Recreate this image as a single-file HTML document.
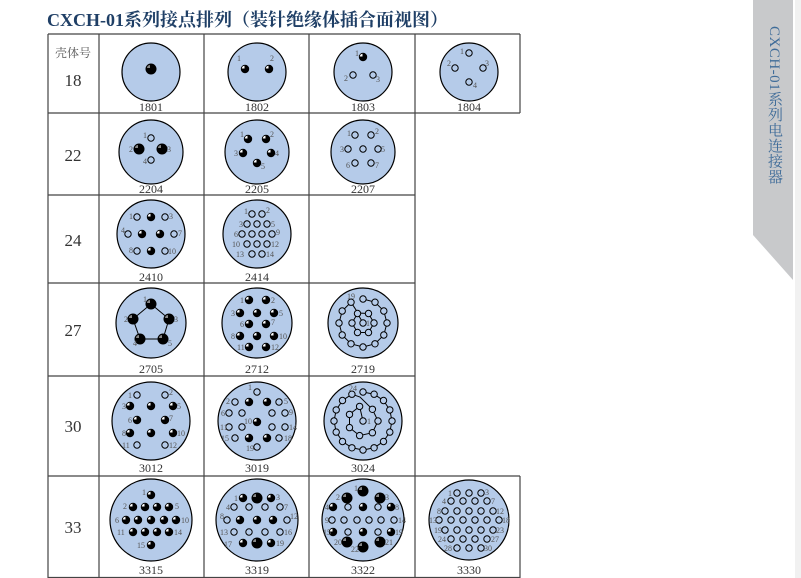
<!DOCTYPE html>
<html><head><meta charset="utf-8"><style>
html,body{margin:0;padding:0;width:801px;height:578px;overflow:hidden;background:#fff}
svg{position:absolute;left:0;top:0}
.vt{position:absolute;left:764px;top:26px;writing-mode:vertical-rl;font-family:"Liberation Serif","Noto Serif CJK SC",serif;font-size:15px;color:#3f6c99;letter-spacing:0.5px}
</style></head><body>
<svg width="801" height="578" viewBox="0 0 801 578" xmlns="http://www.w3.org/2000/svg">
<defs>
<g id="o"><circle r="3.2" fill="#b5cbe9" stroke="#000" stroke-width="1"/></g>
<g id="h"><circle r="4.2" fill="#000"/><path d="M-0.5,-0.5 L-3.2,-0.5 A2.8,2.8 0 0 1 -0.5,-3.2Z" fill="#fff"/></g>
<g id="b"><circle r="5.5" fill="#000"/><path d="M-1,-1 L-4,-1 A3,3 0 0 1 -1,-4Z" fill="#888"/></g>
</defs>
<polygon points="753,0 793,0 793,280 753,235" fill="#c8c9cb"/>
<rect x="795" y="0" width="6" height="578" fill="#f1f1f1"/>
<text x="47" y="26" font-family="Liberation Serif,Noto Serif CJK SC,serif" font-weight="bold" font-size="18" fill="#1f3f66">CXCH-01系列接点排列（装针绝缘体插合面视图）</text>
<g stroke="#444" stroke-width="1.2" fill="none">
<line x1="48" y1="34" x2="520" y2="34"/><line x1="48" y1="113" x2="520" y2="113"/>
<line x1="48" y1="195" x2="415" y2="195"/><line x1="48" y1="283" x2="415" y2="283"/>
<line x1="48" y1="376" x2="415" y2="376"/><line x1="48" y1="476" x2="520" y2="476"/>
<line x1="48" y1="577.5" x2="520" y2="577.5"/>
<line x1="48" y1="34" x2="48" y2="578"/><line x1="99" y1="34" x2="99" y2="578"/>
<line x1="204" y1="34" x2="204" y2="578"/><line x1="309" y1="34" x2="309" y2="578"/>
<line x1="415" y1="34" x2="415" y2="578"/><line x1="520" y1="34" x2="520" y2="113"/>
<line x1="520" y1="476" x2="520" y2="578"/>
</g>
<g font-family="Liberation Serif,Noto Serif CJK SC,serif" fill="#333" text-anchor="middle">
<text x="73" y="57" font-size="12" fill="#555">壳体号</text>
<text x="73" y="86" font-size="17">18</text>
<text x="73" y="161" font-size="17">22</text>
<text x="73" y="246" font-size="17">24</text>
<text x="73" y="336" font-size="17">27</text>
<text x="73" y="432" font-size="17">30</text>
<text x="73" y="533" font-size="17">33</text>
<g font-size="12">
<text x="151" y="111">1801</text><text x="257" y="111">1802</text><text x="363" y="111">1803</text><text x="469" y="111">1804</text>
<text x="151" y="193">2204</text><text x="257" y="193">2205</text><text x="363" y="193">2207</text>
<text x="151" y="281">2410</text><text x="257" y="281">2414</text>
<text x="151" y="373">2705</text><text x="257" y="373">2712</text><text x="363" y="373">2719</text>
<text x="151" y="472">3012</text><text x="257" y="472">3019</text><text x="363" y="472">3024</text>
<text x="151" y="574">3315</text><text x="257" y="574">3319</text><text x="363" y="574">3322</text><text x="469" y="574">3330</text>
</g>
</g>
<g fill="#b5cbe9" stroke="#000" stroke-width="1.2">
<circle cx="151" cy="72" r="29"/><circle cx="257" cy="72" r="29"/><circle cx="363" cy="72" r="29"/><circle cx="469" cy="72" r="29"/>
<circle cx="151" cy="152" r="32"/><circle cx="257" cy="152" r="32"/><circle cx="363" cy="152" r="32"/>
<circle cx="151" cy="234" r="34"/><circle cx="257" cy="234" r="34"/>
<circle cx="151" cy="323" r="35"/><circle cx="257" cy="323" r="35"/><circle cx="363" cy="323" r="35"/>
<circle cx="151" cy="421" r="39"/><circle cx="257" cy="421" r="39"/><circle cx="363" cy="421" r="39"/>
<circle cx="151" cy="520" r="41"/><circle cx="257" cy="520" r="41"/><circle cx="363" cy="520" r="41"/><circle cx="469" cy="520" r="40"/>
</g>
<g font-family="Liberation Serif,serif" font-size="8" fill="#555">
<g transform="translate(151,72)"><use href="#b" x="0" y="-3"/></g>
<g transform="translate(257,72)"><use href="#h" x="-12" y="-3"/><use href="#h" x="12" y="-3"/><text x="-20" y="-11">1</text><text x="13" y="-11">2</text></g>
<g transform="translate(363,72)"><use href="#h" x="0" y="-15"/><use href="#o" x="-10" y="3"/><use href="#o" x="10" y="3"/><text x="-8" y="-16">1</text><text x="-19" y="9">2</text><text x="13" y="10">3</text></g>
<g transform="translate(469,72)"><use href="#o" x="0" y="-19"/><use href="#o" x="-14" y="-4"/><use href="#o" x="14" y="-4"/><use href="#o" x="0" y="10"/><text x="-9" y="-18">1</text><text x="-22" y="-6">2</text><text x="16" y="-6">3</text><text x="4" y="16">4</text></g>
<g transform="translate(151,152)"><use href="#o" x="0" y="-14"/><use href="#b" x="-12" y="-3"/><use href="#b" x="11" y="-3"/><use href="#o" x="0" y="8"/><text x="-8" y="-14">1</text><text x="-22" y="0">2</text><text x="16" y="0">3</text><text x="-8" y="12">4</text></g>
<g transform="translate(257,152)"><use href="#h" x="-9" y="-13"/><use href="#h" x="9" y="-13"/><use href="#h" x="-14" y="1"/><use href="#h" x="14" y="1"/><use href="#h" x="0" y="11"/><text x="-17" y="-15">1</text><text x="13" y="-15">2</text><text x="-23" y="4">3</text><text x="18" y="4">4</text><text x="4" y="17">5</text></g>
<g transform="translate(363,152)"><use href="#o" x="-8" y="-17"/><use href="#o" x="8" y="-17"/><use href="#o" x="-15" y="-3"/><use href="#o" x="0" y="-3"/><use href="#o" x="15" y="-3"/><use href="#o" x="-8" y="11"/><use href="#o" x="8" y="11"/><text x="-16" y="-16">1</text><text x="12" y="-18">2</text><text x="-23" y="0">3</text><text x="18" y="0">5</text><text x="-17" y="16">6</text><text x="12" y="16">7</text></g>
<g transform="translate(151,234)"><use href="#o" x="-14" y="-17"/><use href="#h" x="0" y="-17"/><use href="#o" x="14" y="-17"/><use href="#o" x="-23" y="0"/><use href="#h" x="-9" y="0"/><use href="#h" x="9" y="0"/><use href="#o" x="23" y="0"/><use href="#o" x="-14" y="17"/><use href="#h" x="0" y="17"/><use href="#o" x="14" y="17"/><text x="-22" y="-15">1</text><text x="18" y="-15">3</text><text x="-30" y="-1">4</text><text x="27" y="2">7</text><text x="-22" y="19">8</text><text x="17" y="20">10</text></g>
<g transform="translate(257,234)"><use href="#o" x="-5" y="-20"/><use href="#o" x="5" y="-20"/><use href="#o" x="-10" y="-10"/><use href="#o" x="0" y="-10"/><use href="#o" x="10" y="-10"/><use href="#o" x="-15" y="0"/><use href="#o" x="-5" y="0"/><use href="#o" x="5" y="0"/><use href="#o" x="15" y="0"/><use href="#o" x="-10" y="10"/><use href="#o" x="0" y="10"/><use href="#o" x="10" y="10"/><use href="#o" x="-5" y="20"/><use href="#o" x="5" y="20"/><text x="-13" y="-20">1</text><text x="9" y="-21">2</text><text x="-18" y="-7">3</text><text x="14" y="-7">5</text><text x="-23" y="3">6</text><text x="19" y="1">9</text><text x="-25" y="13">10</text><text x="14" y="13">12</text><text x="-21" y="23">13</text><text x="9" y="23">14</text></g>
<g transform="translate(151,323)"><polygon points="0,-19 18,-4 12,16 -11,16 -18,-4" fill="none" stroke="#000" stroke-width="1"/><use href="#b" x="0" y="-19"/><use href="#b" x="18" y="-4"/><use href="#b" x="12" y="16"/><use href="#b" x="-11" y="16"/><use href="#b" x="-18" y="-4"/><text x="-8" y="-21">1</text><text x="-27" y="-1">2</text><text x="23" y="-1">3</text><text x="-18" y="23">4</text><text x="17" y="23">5</text></g>
<g transform="translate(257,323)"><use href="#h" x="-8" y="-23"/><use href="#h" x="9" y="-23"/><use href="#h" x="-17" y="-10"/><use href="#h" x="0" y="-10"/><use href="#h" x="17" y="-10"/><use href="#h" x="-8" y="1"/><use href="#h" x="9" y="1"/><use href="#h" x="-17" y="13"/><use href="#h" x="0" y="13"/><use href="#h" x="17" y="13"/><use href="#h" x="-8" y="24"/><use href="#h" x="9" y="24"/><text x="-17" y="-20">1</text><text x="14" y="-20">2</text><text x="-26" y="-7">3</text><text x="22" y="-7">5</text><text x="-17" y="4">6</text><text x="14" y="2">7</text><text x="-26" y="16">8</text><text x="22" y="16">10</text><text x="-20" y="27">11</text><text x="14" y="27">12</text></g>
<g transform="translate(363,323)"><polyline points="0,-24 12,-20.8 20.8,-12 24,0 20.8,12 12,20.8 0,24 -12,20.8 -20.8,12 -24,0 -20.8,-12 -12,-20.8 -5,-10 5.5,-9.5 11,0 5.5,9.5 -5.5,9.5 -11,0 -5.5,-9.5 0,0" fill="none" stroke="#000" stroke-width="1"/>
<use href="#o" x="0" y="-24"/><use href="#o" x="12" y="-20.8"/><use href="#o" x="20.8" y="-12"/><use href="#o" x="24" y="0"/><use href="#o" x="20.8" y="12"/><use href="#o" x="12" y="20.8"/><use href="#o" x="0" y="24"/><use href="#o" x="-12" y="20.8"/><use href="#o" x="-20.8" y="12"/><use href="#o" x="-24" y="0"/><use href="#o" x="-20.8" y="-12"/><use href="#o" x="-12" y="-20.8"/><use href="#o" x="5.5" y="-9.5"/><use href="#o" x="11" y="0"/><use href="#o" x="5.5" y="9.5"/><use href="#o" x="-5.5" y="9.5"/><use href="#o" x="-11" y="0"/><use href="#o" x="-5.5" y="-9.5"/><use href="#o" x="0" y="0"/><text x="-16" y="-24">19</text><text x="3" y="3">1</text></g>
<g transform="translate(151,421)"><use href="#o" x="-14" y="-26"/><use href="#o" x="14" y="-26"/><use href="#h" x="-21" y="-15"/><use href="#h" x="0" y="-15"/><use href="#h" x="22" y="-15"/><use href="#h" x="-14" y="-1"/><use href="#h" x="14" y="-1"/><use href="#h" x="-21" y="12"/><use href="#h" x="0" y="12"/><use href="#h" x="22" y="12"/><use href="#o" x="-14" y="24"/><use href="#o" x="14" y="24"/><text x="-23" y="-23">1</text><text x="18" y="-26">2</text><text x="-29" y="-12">3</text><text x="26" y="-12">5</text><text x="-23" y="2">6</text><text x="18" y="0">7</text><text x="-29" y="15">8</text><text x="26" y="15">10</text><text x="-29" y="27">11</text><text x="18" y="27">12</text></g>
<g transform="translate(257,421)"><use href="#o" x="0" y="-29"/><use href="#o" x="-22" y="-19"/><use href="#h" x="-8" y="-19"/><use href="#h" x="10" y="-19"/><use href="#o" x="22" y="-19"/><use href="#o" x="-28" y="-8"/><use href="#o" x="-15" y="-8"/><use href="#o" x="15" y="-8"/><use href="#o" x="28" y="-8"/><use href="#h" x="0" y="1"/><use href="#o" x="-28" y="6"/><use href="#o" x="-15" y="6"/><use href="#o" x="15" y="6"/><use href="#o" x="28" y="6"/><use href="#o" x="-22" y="17"/><use href="#h" x="-8" y="17"/><use href="#h" x="10" y="17"/><use href="#o" x="22" y="17"/><use href="#o" x="0" y="26"/><text x="-9" y="-31">1</text><text x="-31" y="-17">2</text><text x="27" y="-17">5</text><text x="-36" y="-5">6</text><text x="32" y="-6">9</text><text x="-13" y="3">10</text><text x="-37" y="9">11</text><text x="32" y="9">14</text><text x="-36" y="20">15</text><text x="27" y="20">18</text><text x="-11" y="30">19</text></g>
<g transform="translate(363,421)"><polyline points="0,-29 11.1,-26.8 20.5,-20.5 26.8,-11.1 29,0 26.8,11.1 20.5,20.5 11.1,26.8 0,29 -11.1,26.8 -20.5,20.5 -26.8,11.1 -29,0 -26.8,-11.1 -20.5,-20.5 -11.1,-26.8 -3,-24 9.4,-11.7 15,0 9.4,11.7 -3.4,14.6 -13.5,6.6 -13.5,-6.6 -3.4,-14.6 0,0" fill="none" stroke="#000" stroke-width="1"/>
<use href="#o" x="0" y="-29"/><use href="#o" x="11.1" y="-26.8"/><use href="#o" x="20.5" y="-20.5"/><use href="#o" x="26.8" y="-11.1"/><use href="#o" x="29" y="0"/><use href="#o" x="26.8" y="11.1"/><use href="#o" x="20.5" y="20.5"/><use href="#o" x="11.1" y="26.8"/><use href="#o" x="0" y="29"/><use href="#o" x="-11.1" y="26.8"/><use href="#o" x="-20.5" y="20.5"/><use href="#o" x="-26.8" y="11.1"/><use href="#o" x="-29" y="0"/><use href="#o" x="-26.8" y="-11.1"/><use href="#o" x="-20.5" y="-20.5"/><use href="#o" x="-11.1" y="-26.8"/><use href="#o" x="9.4" y="-11.7"/><use href="#o" x="15" y="0"/><use href="#o" x="9.4" y="11.7"/><use href="#o" x="-3.4" y="14.6"/><use href="#o" x="-13.5" y="6.6"/><use href="#o" x="-13.5" y="-6.6"/><use href="#o" x="-3.4" y="-14.6"/><use href="#o" x="0" y="0"/><text x="-14" y="-30">24</text><text x="4" y="3">1</text></g>
<g transform="translate(151,520)"><use href="#h" x="0" y="-25"/><use href="#h" x="-18" y="-13"/><use href="#h" x="-6" y="-13"/><use href="#h" x="6" y="-13"/><use href="#h" x="18" y="-13"/><use href="#h" x="-25" y="0"/><use href="#h" x="-13" y="0"/><use href="#h" x="0" y="0"/><use href="#h" x="13" y="0"/><use href="#h" x="25" y="0"/><use href="#h" x="-18" y="12"/><use href="#h" x="-6" y="12"/><use href="#h" x="6" y="12"/><use href="#h" x="18" y="12"/><use href="#h" x="0" y="25"/><text x="-9" y="-25">1</text><text x="-28" y="-11">2</text><text x="24" y="-11">5</text><text x="-36" y="3">6</text><text x="30" y="3">10</text><text x="-34" y="15">11</text><text x="23" y="15">14</text><text x="-14" y="28">15</text></g>
<g transform="translate(257,520)"><use href="#h" x="-14" y="-22"/><use href="#b" x="0" y="-22"/><use href="#h" x="14" y="-22"/><use href="#o" x="-23" y="-13"/><use href="#o" x="-8" y="-13"/><use href="#o" x="8" y="-13"/><use href="#o" x="23" y="-13"/><use href="#o" x="-30" y="0"/><use href="#h" x="-17" y="0"/><use href="#h" x="0" y="0"/><use href="#h" x="16" y="0"/><use href="#o" x="30" y="0"/><use href="#o" x="-23" y="12"/><use href="#o" x="-8" y="12"/><use href="#o" x="8" y="12"/><use href="#o" x="23" y="12"/><use href="#h" x="-14" y="23"/><use href="#b" x="0" y="23"/><use href="#h" x="14" y="23"/><text x="-23" y="-19">1</text><text x="19" y="-20">3</text><text x="-31" y="-10">4</text><text x="27" y="-10">7</text><text x="-37" y="-1">8</text><text x="33" y="-1">12</text><text x="-37" y="15">13</text><text x="27" y="15">16</text><text x="-33" y="27">17</text><text x="19" y="26">19</text></g>
<g transform="translate(363,520)"><use href="#b" x="0" y="-29"/><use href="#b" x="-16" y="-22"/><use href="#b" x="17" y="-22"/><use href="#h" x="-30" y="-13"/><use href="#o" x="-15" y="-13"/><use href="#h" x="0" y="-13"/><use href="#o" x="15" y="-13"/><use href="#h" x="28" y="-13"/><use href="#o" x="-31" y="0"/><use href="#o" x="-19" y="0"/><use href="#o" x="-6" y="0"/><use href="#o" x="6" y="0"/><use href="#o" x="18" y="0"/><use href="#o" x="31" y="0"/><use href="#h" x="-30" y="12"/><use href="#o" x="-15" y="12"/><use href="#h" x="0" y="12"/><use href="#o" x="15" y="12"/><use href="#h" x="28" y="12"/><use href="#b" x="-16" y="22"/><use href="#b" x="17" y="22"/><use href="#b" x="0" y="27"/><text x="-9" y="-29">1</text><text x="-27" y="-20">2</text><text x="22" y="-20">3</text><text x="-38" y="-10">4</text><text x="32" y="-10">8</text><text x="-38" y="3">9</text><text x="35" y="3">14</text><text x="-40" y="15">15</text><text x="32" y="15">19</text><text x="-29" y="25">20</text><text x="22" y="25">21</text><text x="-12" y="32">22</text></g>
<g transform="translate(469,520)">
<use href="#o" x="-12" y="-27"/><use href="#o" x="0" y="-27"/><use href="#o" x="12" y="-27"/>
<use href="#o" x="-18" y="-19"/><use href="#o" x="-6" y="-19"/><use href="#o" x="6" y="-19"/><use href="#o" x="18" y="-19"/>
<use href="#o" x="-24" y="-9"/><use href="#o" x="-12" y="-9"/><use href="#o" x="0" y="-9"/><use href="#o" x="12" y="-9"/><use href="#o" x="24" y="-9"/>
<use href="#o" x="-30" y="0"/><use href="#o" x="-18" y="0"/><use href="#o" x="-6" y="0"/><use href="#o" x="6" y="0"/><use href="#o" x="18" y="0"/><use href="#o" x="30" y="0"/>
<use href="#o" x="-24" y="10"/><use href="#o" x="-12" y="10"/><use href="#o" x="0" y="10"/><use href="#o" x="12" y="10"/><use href="#o" x="24" y="10"/>
<use href="#o" x="-18" y="19"/><use href="#o" x="-6" y="19"/><use href="#o" x="6" y="19"/><use href="#o" x="18" y="19"/>
<use href="#o" x="-12" y="28"/><use href="#o" x="0" y="28"/><use href="#o" x="12" y="28"/>
<text x="-21" y="-24">1</text><text x="16" y="-25">3</text><text x="-27" y="-16">4</text><text x="22" y="-16">7</text><text x="-32" y="-6">8</text><text x="27" y="-6">12</text><text x="-40" y="3">13</text><text x="33" y="3">18</text><text x="-35" y="13">19</text><text x="27" y="13">23</text><text x="-31" y="22">24</text><text x="22" y="22">27</text><text x="-25" y="31">28</text><text x="15" y="31">30</text>
</g>
</g>
</svg>
<div class="vt">CXCH-01系列电连接器</div>
</body></html>
